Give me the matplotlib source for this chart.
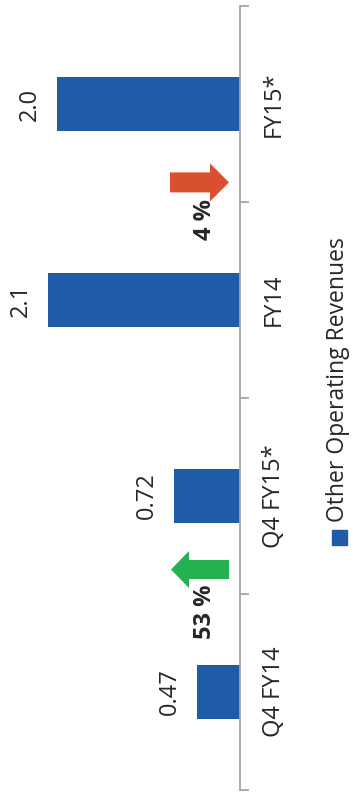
import matplotlib.pyplot as plt
from matplotlib.patches import FancyArrow, Rectangle

plt.rcParams['font.family'] = ['Open Sans', 'DejaVu Sans']

categories = ['Q4 FY14', 'Q4 FY15*', 'FY14', 'FY15*']
values = [0.47, 0.72, 2.1, 2.0]
value_labels = ['0.47', '0.72', '2.1', '2.0']
series_name = 'Other Operating Revenues'

# year-on-year changes drawn between each pair of bars
changes = ['53 %', '4 %']
change_up = [True, False]

blue = '#1f5ba6'
grey = '#a6a6a6'
txt = '#262626'

W, H = 353, 797
fig = plt.figure(figsize=(W / 100, H / 100), dpi=100)
# axis runs top to bottom at x=240, bars grow to the left
ax = fig.add_axes([0, 7 / H, 240 / W, 784 / H])

pos = list(range(len(categories)))
ax.barh(pos, values, height=0.28, color=blue)
ax.set_xlim(240 / 91.4, 0)
ax.set_ylim(-0.5, len(categories) - 0.5)

for s in ['left', 'top', 'bottom']:
    ax.spines[s].set_visible(False)
ax.spines['right'].set_color(grey)
ax.spines['right'].set_linewidth(1.3)
ax.set_xticks([])
ax.yaxis.tick_right()
ax.set_yticks([])
ax.set_yticks([p - 0.5 for p in pos] + [pos[-1] + 0.5], minor=True)
ax.tick_params(axis='y', which='minor', length=6.5, width=1.3, color=grey,
               direction='out')

fs = 17
for p, cat in zip(pos, categories):
    ax.text(1.142, p, cat, transform=ax.get_yaxis_transform(), rotation=90,
            ha='center', va='center', fontsize=fs, color=txt)

for p, v, lab in zip(pos, values, value_labels):
    ax.annotate(lab, (v, p), xytext=(-19.5, 0), textcoords='offset points',
                rotation=90, ha='center', va='center', fontsize=fs, color=txt)

# change arrows sit on the boundary between each period pair
for k, (lab, up) in enumerate(zip(changes, change_up)):
    b = 2 * k + 0.5
    if up:
        arr = FancyArrow(0.12, b + 0.125, 0.635, 0, width=0.097,
                         head_width=0.189, head_length=0.197,
                         length_includes_head=True, color='#25b14f', lw=0)
    else:
        arr = FancyArrow(0.766, b + 0.1, -0.646, 0, width=0.102,
                         head_width=0.194, head_length=0.208,
                         length_includes_head=True, color='#d9502e', lw=0)
    ax.add_patch(arr)
    ax.text(0.383, b - 0.09, lab, rotation=90, ha='center', va='center',
            fontsize=fs, fontweight='bold', color=txt)

# legend, turned with the rest of the chart
fig.patches.append(Rectangle((332 / W, 1 - 545 / H), 15 / W, 15 / H,
                             transform=fig.transFigure, color=blue))
fig.text(338 / W, 1 - 522 / H, series_name, rotation=90, ha='center',
         va='bottom', fontsize=16.5, color=txt)

fig.savefig('out.png', dpi=100)
